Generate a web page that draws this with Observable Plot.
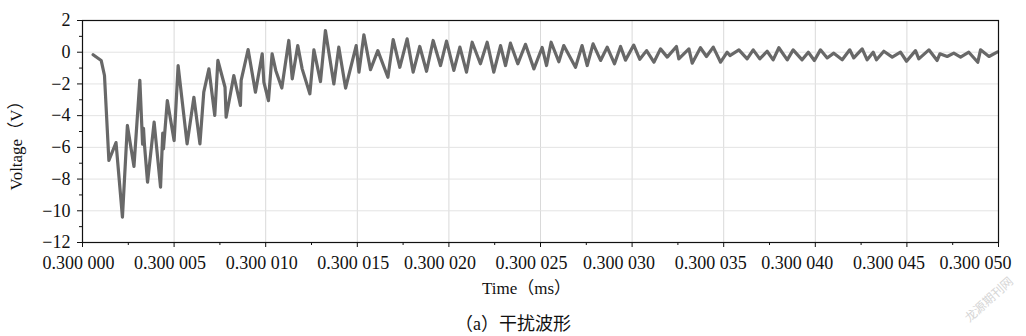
<!DOCTYPE html>
<html><head><meta charset="utf-8">
<script src="https://cdn.jsdelivr.net/npm/d3@7"></script>
<script src="https://cdn.jsdelivr.net/npm/@observablehq/plot@0.6"></script>
<style>
body{margin:0;background:#fff;}
#wrap{position:relative;width:1026px;height:336px;overflow:hidden;}
#wrap svg text{font-family:"Liberation Serif","Noto Sans CJK SC",serif;}
.cap{position:absolute;top:309px;left:0;width:1026px;padding-left:0;text-align:center;font-family:"Liberation Serif","Noto Sans CJK SC";font-size:18px;color:#111;}
.wm{position:absolute;left:958px;top:290px;transform:rotate(-42deg);font-family:"Noto Sans CJK SC";font-size:12px;color:#d6d6d6;}
</style></head><body><div id="wrap"></div>
<script>
// time offset in units of 1e-6 ms after 0.300000 ms
const time = [0.58,1.02,1.2,1.44,1.83,2.18,2.45,2.81,3.13,3.28,3.33,3.38,3.55,3.91,4.26,4.38,4.42,4.63,5.0,5.22,5.71,6.08,6.41,6.62,6.9,7.22,7.39,7.78,7.84,8.26,8.62,8.66,9.04,9.44,9.81,9.9,10.15,10.35,10.55,10.88,11.26,11.45,11.75,11.99,12.41,12.63,12.99,13.26,13.72,13.99,14.36,14.94,15.09,15.36,15.72,16.12,16.67,16.96,17.32,17.72,18.05,18.41,18.78,19.14,19.54,19.87,20.27,20.6,20.96,21.27,21.72,22.09,22.45,22.82,23.09,23.36,23.76,24.18,24.64,25.09,25.33,25.58,26.0,26.27,26.91,27.27,27.55,27.87,28.28,28.64,29.04,29.37,29.64,30.09,30.42,30.79,31.19,31.55,31.92,32.42,32.55,33.1,33.28,33.73,34.06,34.43,34.83,35.19,35.34,35.83,36.28,36.61,36.97,37.37,37.7,38.01,38.47,38.79,39.28,39.62,39.95,40.28,40.65,41.01,41.47,41.88,42.1,42.56,42.83,43.16,43.34,43.74,44.2,44.65,44.98,45.47,45.65,46.2,46.65,46.8,47.2,47.56,47.93,48.38,48.87,49.02,49.48,49.95];
const voltage = [-0.16,-0.52,-1.47,-6.83,-5.7,-10.4,-4.62,-7.2,-1.78,-5.8,-4.8,-5.8,-8.2,-4.41,-8.51,-5.1,-6.1,-3.05,-5.57,-0.85,-5.78,-2.84,-5.78,-2.52,-1.05,-3.99,-0.52,-2.21,-4.1,-1.47,-3.36,-1.78,0.17,-2.52,-0.1,-1.89,-3.05,-0.1,-1.15,-2.26,0.74,-1.68,0.42,-1.05,-2.62,0.15,-1.85,1.37,-2.0,0.32,-2.26,0.42,-1.26,1.1,-1.1,0.1,-1.58,0.8,-0.95,0.84,-1.26,0.36,-1.2,0.74,-0.84,0.7,-1.15,0.32,-1.26,0.63,-0.73,0.63,-1.26,0.42,-0.84,0.57,-0.73,0.5,-1.05,0.3,-0.84,0.63,-0.6,0.42,-0.95,0.42,-0.84,0.53,-0.52,0.32,-0.73,0.36,-0.5,0.45,-0.45,0.1,-0.63,0.21,-0.31,0.36,-0.42,0.21,-0.69,0.28,-0.27,0.32,-0.63,0.0,-0.21,0.15,-0.42,0.15,-0.42,0.06,-0.48,0.28,-0.48,0.15,-0.48,0.0,-0.52,0.15,-0.36,-0.06,-0.48,0.15,-0.36,0.21,-0.48,0.0,-0.48,0.06,-0.31,0.0,-0.57,0.1,-0.42,0.15,-0.52,-0.1,-0.27,-0.06,-0.31,0.0,-0.63,0.15,-0.27,0.02];
const xTicks = [0,5,10,15,20,25,30,35,40,45,50];
const xTickLabels = ["0.300 000","0.300 005","0.300 010","0.300 015","0.300 020","0.300 025","0.300 030","0.300 035","0.300 040","0.300 045","0.300 050"];
const xMinorTicks = [2.5,7.5,12.5,17.5,22.5,27.5,32.5,37.5,42.5,47.5];
const yTicks = [-12,-10,-8,-6,-4,-2,0,2];
const yTickLabels = ["−12","−10","−8","−6","−4","−2","0","2"];
const yMinorTicks = [-11,-9,-7,-5,-3,-1,1];
const xTitle = "Time（ms）";
const yTitle = "Voltage（V）";

const data = time.map((t, i) => ({t, v: voltage[i]}));
const xLabel = d => xTickLabels[xTicks.indexOf(d)];
// tick-label groups (the reference's labels drift slightly left of their ticks)
const labelGroups = [
  {ticks: [0, 5, 10, 15], dx: -4},
  {ticks: [20, 25], dx: -9},
  {ticks: [30, 35], dx: -13},
  {ticks: [40, 45], dx: -18},
  {ticks: [50], dx: -23}
];

const chart = Plot.plot({
  width: 1026, height: 300,
  marginLeft: 82, marginRight: 28, marginTop: 20, marginBottom: 58,
  style: {fontFamily: "Liberation Serif", fontSize: "17px", color: "#111", background: "#fff"},
  x: {domain: [0, 50], label: null},
  y: {domain: [-12, 2], label: null},
  marks: [
    Plot.gridX(xTicks, {stroke: "#d9d9d9", strokeOpacity: 1}),
    Plot.gridY(yTicks, {stroke: "#e3e3e3", strokeOpacity: 1}),
    Plot.line(data, {x: "t", y: "v", stroke: "#686868", strokeWidth: 3.2}),
    Plot.frame({stroke: "#111", strokeWidth: 1.2}),
    Plot.axisX(xTicks, {tickSize: 5, tickFormat: () => "", label: null}),
    ...labelGroups.map(g => Plot.axisX(g.ticks, {tickSize: 0, tickPadding: 14, tickFormat: xLabel, dx: g.dx, label: null, fontSize: 18})),
    Plot.axisX(xMinorTicks, {tickSize: 3, tickFormat: () => "", label: null}),
    Plot.axisY(yTicks, {tickSize: 5, tickPadding: 7, tickFormat: d => yTickLabels[yTicks.indexOf(d)], label: null, fontSize: 18}),
    Plot.axisY(yMinorTicks, {tickSize: 3, tickFormat: () => "", label: null}),
    Plot.text([xTitle], {text: d => d, frameAnchor: "bottom", textAnchor: "middle", lineAnchor: "middle", dy: 46, dx: -14, fontSize: 17, fill: "#111"}),
    Plot.text([yTitle], {text: d => d, frameAnchor: "left", textAnchor: "middle", lineAnchor: "middle", dx: -66, dy: 10, rotate: -90, fontSize: 17, fill: "#111"})
  ]
});
const wrap = document.getElementById("wrap");
wrap.appendChild(chart);
const cap = document.createElement("div");
cap.className = "cap";
cap.textContent = "（a）干扰波形";
wrap.appendChild(cap);
const wm = document.createElement("div");
wm.className = "wm";
wm.textContent = "龙源期刊网";
wrap.appendChild(wm);
</script>
</body></html>
